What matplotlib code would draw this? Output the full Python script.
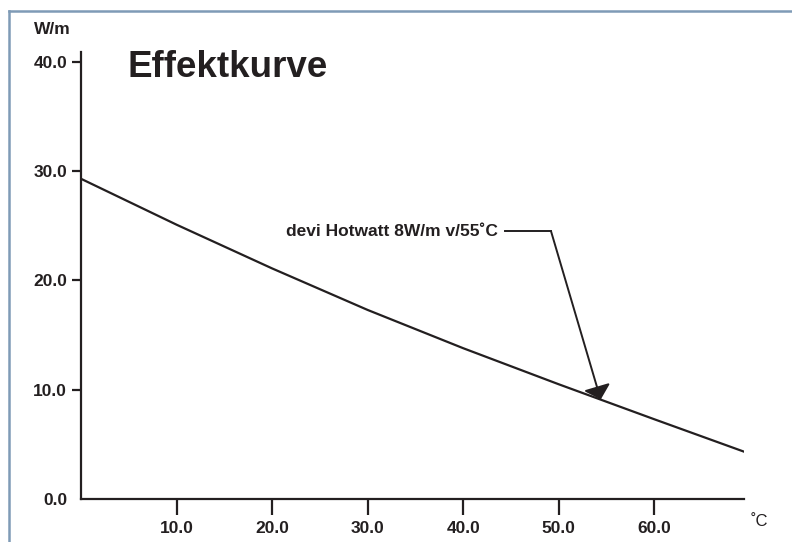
import matplotlib
matplotlib.use("Agg")
import matplotlib.pyplot as plt
from matplotlib.lines import Line2D

# Data
temp_c = [0, 10, 20, 30, 40, 50, 60, 69.5]
power_w_per_m = [29.3, 25.1, 21.1, 17.3, 13.8, 10.5, 7.3, 4.3]
x_ticks = [10, 20, 30, 40, 50, 60]
x_tick_labels = ["10.0", "20.0", "30.0", "40.0", "50.0", "60.0"]
y_ticks = [0, 10, 20, 30, 40]
y_tick_labels = ["0.0", "10.0", "20.0", "30.0", "40.0"]
title = "Effektkurve"
series_label = "devi Hotwatt 8W/m v/55˚C"
x_unit = "˚C"
y_unit = "W/m"

plt.rcParams['font.family'] = ['Liberation Sans', 'DejaVu Sans']
ink = "#231f20"
fs = 12.5

fig = plt.figure(figsize=(7.92, 5.42), dpi=100)
ax = fig.add_axes([81/792, 1 - 499/542, (744-81)/792, (499-52)/542])

ax.plot(temp_c, power_w_per_m, color=ink, lw=1.6, solid_capstyle='butt')

ax.set_xlim(0, 69.4)
ax.set_ylim(0, 40.9)
for s in ['top', 'right']:
    ax.spines[s].set_visible(False)
for s in ['left', 'bottom']:
    ax.spines[s].set_linewidth(1.6)
    ax.spines[s].set_color(ink)

ax.set_xticks(x_ticks)
ax.set_xticklabels(x_tick_labels, fontsize=fs, fontweight='bold', color=ink)
ax.set_yticks(y_ticks)
ax.set_yticklabels(y_tick_labels, fontsize=fs, fontweight='bold', color=ink)
ax.tick_params(axis='x', direction='out', length=11.5, width=1.6, color=ink, pad=4)
ax.tick_params(axis='y', direction='out', length=6.5, width=1.6, color=ink, pad=3.5)
# zero tick on y has no tick mark
ax.yaxis.get_major_ticks()[0].tick1line.set_visible(False)

# Title and unit labels
fig.text(127/792, 1 - 77/542, title, fontsize=26.5, fontweight='bold', color=ink,
         ha='left', va='baseline')
fig.text(34/792, 1 - 34/542, y_unit, fontsize=12.5, fontweight='bold', color=ink,
         ha='left', va='baseline')
fig.text(751/792, 1 - 526/542, x_unit, fontsize=12, color=ink,
         ha='left', va='baseline')

# Annotation with leader line and arrow
ax.text(43.6, 24.5, series_label, fontsize=fs, fontweight='bold', color=ink,
        ha='right', va='center')
ax.plot([44.4, 49.2], [24.5, 24.5], color=ink, lw=1.4)
ax.annotate("", xy=(54.4, 9.1), xytext=(49.2, 24.5),
            arrowprops=dict(arrowstyle='-|>,head_length=0.4,head_width=0.42',
                            color=ink, lw=1.4, shrinkA=0, shrinkB=0,
                            mutation_scale=20))

# Figure frame (top and left blue-gray border)
frame_col = "#7f9bb6"
fig.add_artist(Line2D([9/792, 1], [1 - 11/542, 1 - 11/542], transform=fig.transFigure,
                      color=frame_col, lw=1.8))
fig.add_artist(Line2D([9/792, 9/792], [0, 1 - 11/542], transform=fig.transFigure,
                      color=frame_col, lw=1.8))

fig.savefig("out.png", dpi=100)
